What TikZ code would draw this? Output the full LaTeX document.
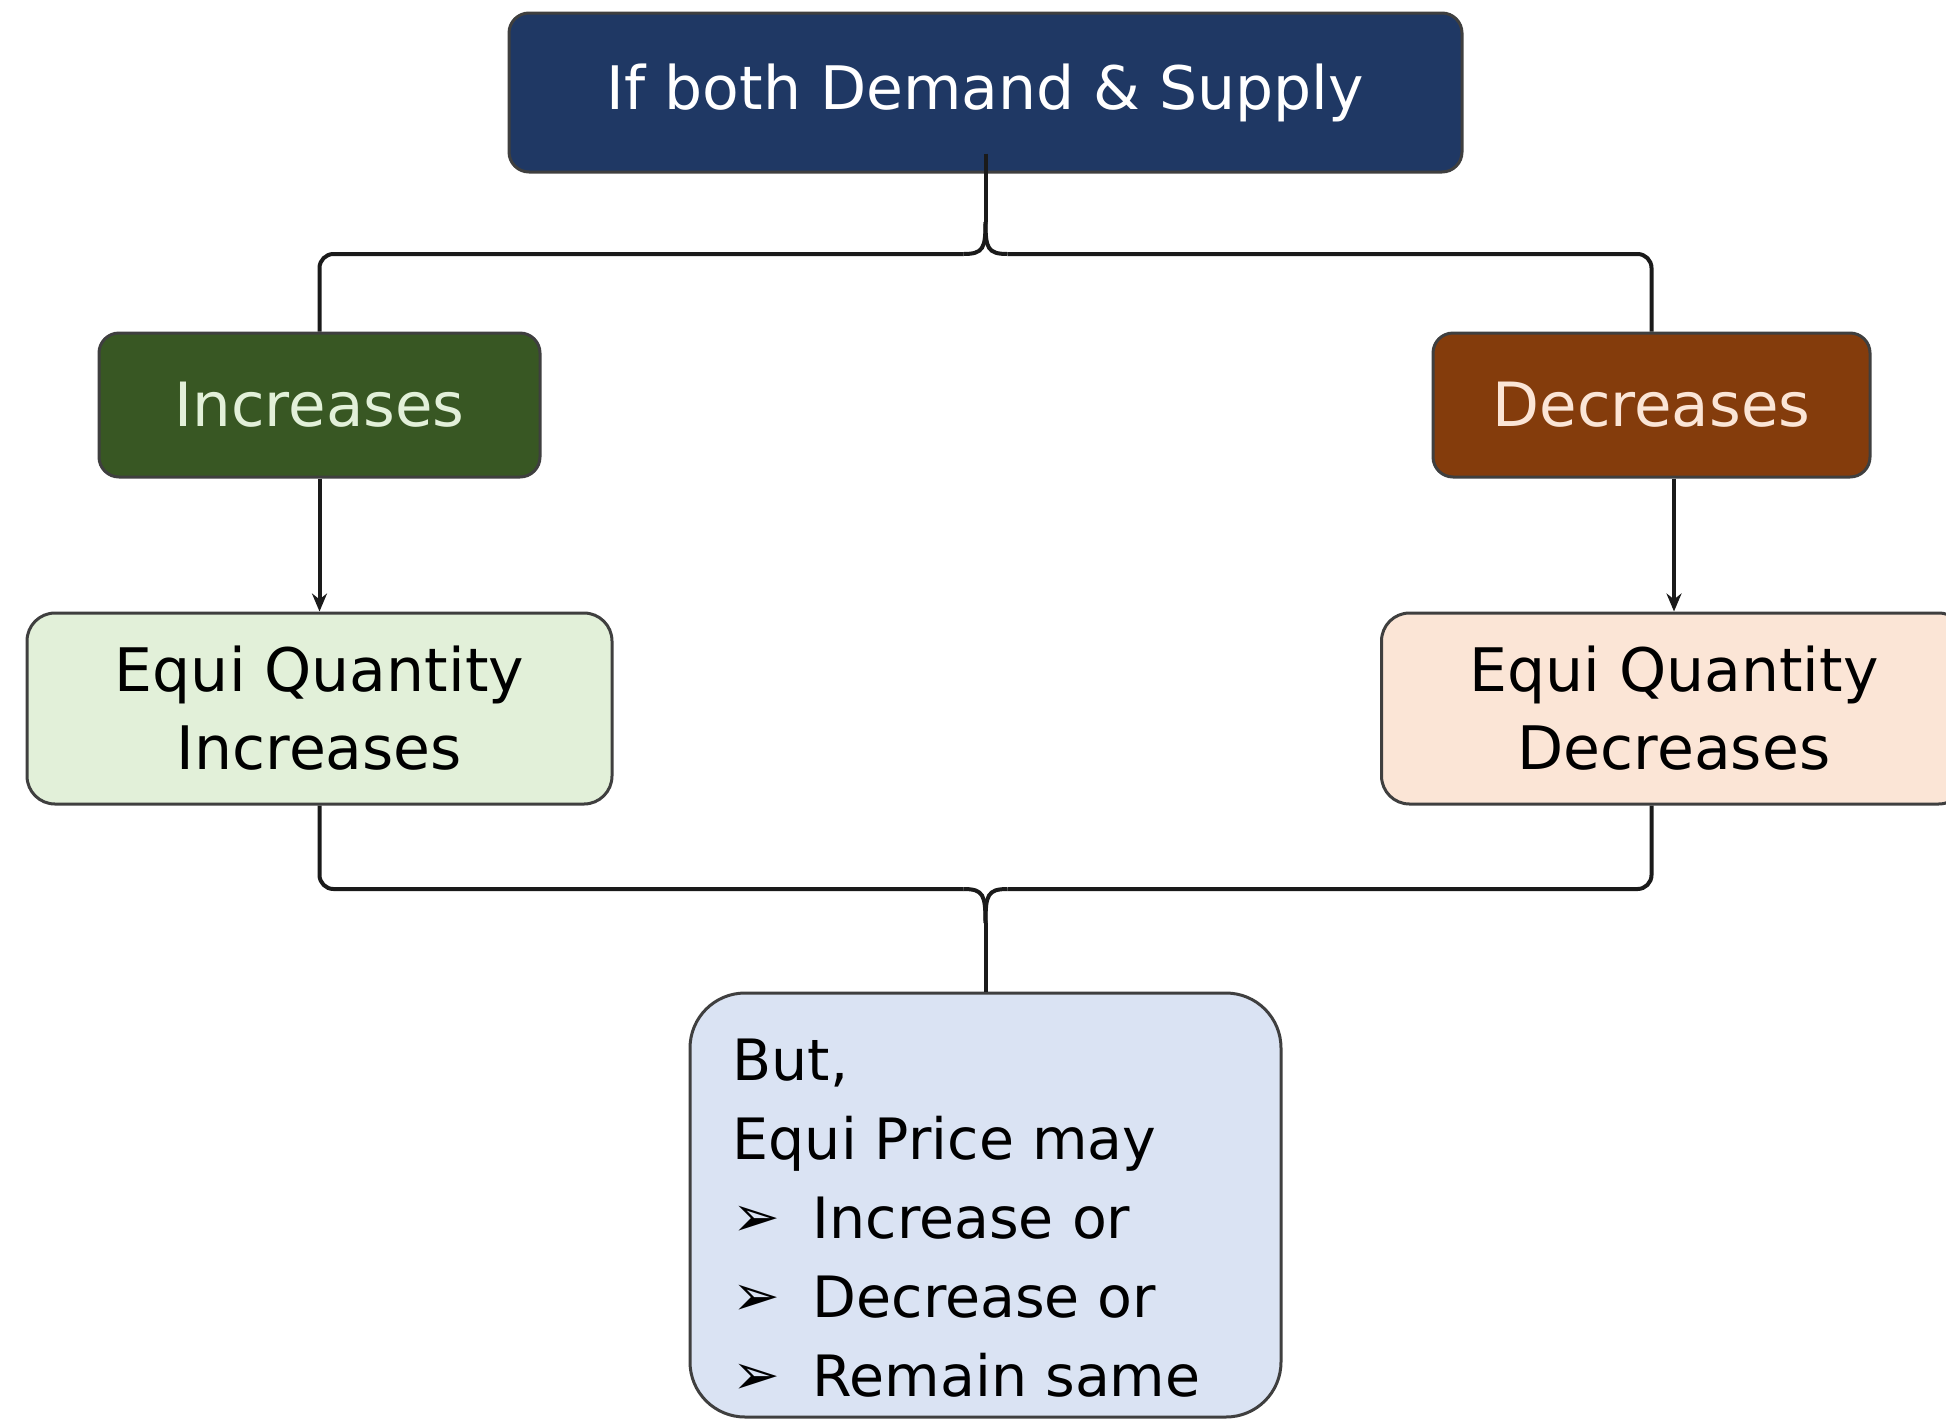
\documentclass[tikz,border=0pt]{standalone}
\usepackage{fontspec}
\setmainfont{DejaVu Sans}
\usetikzlibrary{arrows.meta}
\definecolor{navy}{HTML}{1F3864}
\definecolor{dgreen}{HTML}{385723}
\definecolor{dbrown}{HTML}{843C0C}
\definecolor{lgreen}{HTML}{E2F0D9}
\definecolor{lpeach}{HTML}{FBE5D6}
\definecolor{lblue}{HTML}{DAE3F3}
\definecolor{bordergray}{HTML}{3F3F3F}
\definecolor{linecol}{HTML}{1A1A1A}
\newcommand{\bulit}{\makebox[80pt][l]{\raisebox{2pt}{\scalebox{1.0}{➢}}}}
\begin{document}
\begin{tikzpicture}[x=1pt,y=-1pt,
  box/.style={draw=bordergray, line width=3pt, rounded corners=20pt, inner sep=0pt, align=center},
  link/.style={line width=4pt, draw=linecol},
  arr/.style={link, -{Stealth[length=18pt,width=15pt]}}]
\useasboundingbox (0,0) rectangle (1946,1422);

\node[box, fill=navy, minimum width=953pt, minimum height=159pt, text=white,
      font=\fontsize{60}{72}\selectfont] (top) at (985.5,92.5) {If both Demand \& Supply};
\node[box, fill=dgreen, minimum width=441pt, minimum height=144pt, text=lgreen,
      font=\fontsize{61}{72}\selectfont] (inc) at (319.5,405) {Increases};
\node[box, fill=dbrown, minimum width=437pt, minimum height=144pt, text=lpeach,
      font=\fontsize{61}{72}\selectfont] (dec) at (1651.5,405) {Decreases};
\node[box, fill=lgreen, rounded corners=28pt, minimum width=585pt, minimum height=191pt,
      font=\fontsize{60}{78}\selectfont] (eqi) at (319.5,708.5) {Equi Quantity\\Increases};
\node[box, fill=lpeach, rounded corners=28pt, minimum width=585pt, minimum height=191pt,
      font=\fontsize{60}{78}\selectfont] (eqd) at (1674,708.5) {Equi Quantity\\Decreases};
\node[box, fill=lblue, rounded corners=55pt, minimum width=591pt, minimum height=424pt] (bot) at (985.5,1205) {};
\node[anchor=north west, align=left, inner sep=0pt, font=\fontsize{57}{79}\selectfont]
  (bottxt) at ([xshift=44pt,yshift=-47pt]bot.north west)
  {But,\\Equi Price may\\
   \bulit Increase or\\
   \bulit Decrease or\\
   \bulit Remain same};

% top bracket
\coordinate (j1) at (985.5,254);
\draw[link] ([yshift=20pt]top.south) -- ([yshift=32pt]j1);
\draw[link] ([yshift=32pt]j1) .. controls ([yshift=6pt]j1) and ([xshift=-2pt]j1) .. ([xshift=-22pt]j1);
\draw[link] ([yshift=32pt]j1) .. controls ([yshift=6pt]j1) and ([xshift=2pt]j1) .. ([xshift=22pt]j1);
\draw[link, rounded corners=14pt] ([xshift=-22pt]j1) -- (j1 -| inc.north) -- (inc.north);
\draw[link, rounded corners=14pt] ([xshift=22pt]j1) -- (j1 -| dec.north) -- (dec.north);

% arrows
\draw[arr] (inc) -- (eqi);
\draw[arr] (dec.south -| eqd.north) -- (eqd.north);

% bottom bracket
\coordinate (j2) at (985.5,889);
\draw[link, rounded corners=14pt] (eqi.south) -- (eqi.south |- j2) -- ([xshift=-22pt]j2);
\draw[link, rounded corners=14pt] (dec.north |- eqd.south) -- (dec.north |- j2) -- ([xshift=22pt]j2);
\draw[link] ([xshift=-22pt]j2) .. controls ([xshift=-2pt]j2) and ([yshift=-6pt]j2) .. ([yshift=-34pt]j2);
\draw[link] ([xshift=22pt]j2) .. controls ([xshift=2pt]j2) and ([yshift=-6pt]j2) .. ([yshift=-34pt]j2);
\draw[link] ([yshift=-34pt]j2) -- (bot.north);
\end{tikzpicture}
\end{document}
